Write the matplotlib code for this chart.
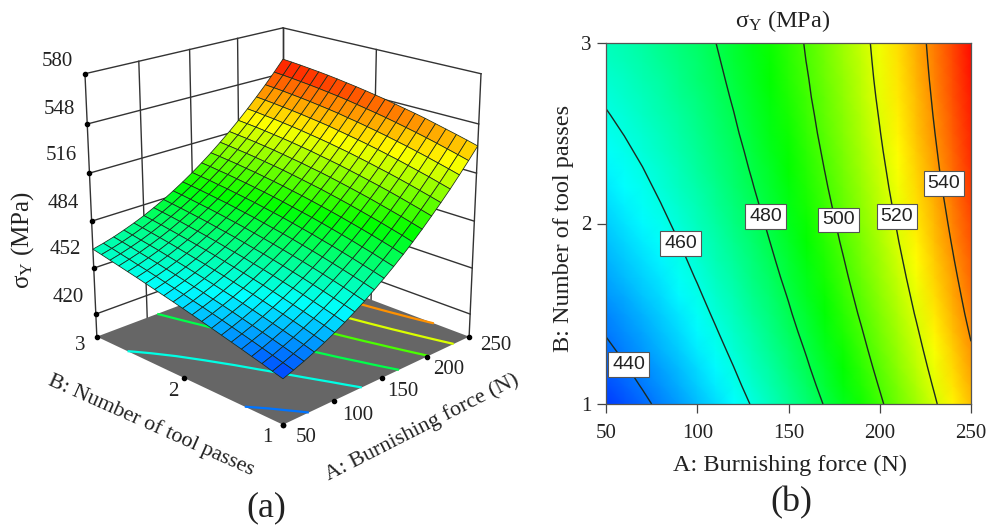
import numpy as np
import matplotlib
matplotlib.use('Agg')
import matplotlib.pyplot as plt
from matplotlib.colors import LinearSegmentedColormap, Normalize

plt.rcParams['font.family'] = ['Liberation Serif', 'DejaVu Serif']
plt.rcParams['mathtext.fontset'] = 'custom'
plt.rcParams['mathtext.rm'] = 'Liberation Serif'
plt.rcParams['mathtext.it'] = 'Liberation Serif'

force = [50, 60, 70, 80, 90, 100, 110, 120, 130, 140, 150, 160, 170, 180, 190, 200, 210, 220, 230, 240, 250]
passes = [1.0, 1.1, 1.2, 1.3, 1.4, 1.5, 1.6, 1.7, 1.8, 1.9, 2.0, 2.1, 2.2, 2.3, 2.4, 2.5, 2.6, 2.7, 2.8, 2.9, 3.0]

# yield strength, one row per number of passes
sigma_y = [
    [433.3, 435.8, 438.5, 441.5, 444.8, 448.3, 452.1, 456.2, 460.5, 465.2, 470.1, 475.2, 480.6, 486.3, 492.3, 498.6, 505.1, 511.8, 518.9, 526.2, 533.8],
    [435.1, 437.6, 440.4, 443.4, 446.6, 450.2, 454.0, 458.1, 462.4, 467.1, 472.0, 477.1, 482.6, 488.3, 494.2, 500.5, 507.0, 513.7, 520.8, 528.1, 535.7],
    [437.0, 439.4, 442.2, 445.2, 448.5, 452.0, 455.8, 459.9, 464.3, 468.9, 473.8, 479.0, 484.4, 490.1, 496.1, 502.3, 508.8, 515.6, 522.6, 529.9, 537.5],
    [438.7, 441.2, 444.0, 447.0, 450.3, 453.8, 457.6, 461.7, 466.1, 470.7, 475.6, 480.7, 486.2, 491.9, 497.8, 504.1, 510.6, 517.3, 524.4, 531.7, 539.2],
    [440.5, 443.0, 445.7, 448.7, 452.0, 455.5, 459.4, 463.4, 467.8, 472.4, 477.3, 482.5, 487.9, 493.6, 499.5, 505.8, 512.3, 519.0, 526.1, 533.4, 540.9],
    [442.2, 444.7, 447.4, 450.4, 453.7, 457.2, 461.1, 465.1, 469.5, 474.1, 479.0, 484.1, 489.5, 495.2, 501.2, 507.4, 513.9, 520.7, 527.7, 535.0, 542.6],
    [443.9, 446.4, 449.1, 452.1, 455.4, 458.9, 462.7, 466.7, 471.1, 475.7, 480.5, 485.7, 491.1, 496.8, 502.7, 508.9, 515.4, 522.2, 529.2, 536.5, 544.1],
    [445.6, 448.1, 450.8, 453.7, 457.0, 460.5, 464.3, 468.3, 472.6, 477.2, 482.1, 487.2, 492.6, 498.3, 504.2, 510.4, 516.9, 523.7, 530.7, 538.0, 545.5],
    [447.3, 449.7, 452.4, 455.3, 458.5, 462.0, 465.8, 469.8, 474.1, 478.7, 483.5, 488.7, 494.0, 499.7, 505.6, 511.8, 518.3, 525.1, 532.1, 539.4, 546.9],
    [448.9, 451.3, 453.9, 456.8, 460.0, 463.5, 467.2, 471.3, 475.5, 480.1, 484.9, 490.0, 495.4, 501.1, 507.0, 513.2, 519.7, 526.4, 533.4, 540.7, 548.3],
    [450.5, 452.8, 455.5, 458.3, 461.5, 464.9, 468.7, 472.6, 476.9, 481.4, 486.3, 491.3, 496.7, 502.3, 508.3, 514.4, 520.9, 527.6, 534.7, 541.9, 549.5],
    [452.1, 454.4, 456.9, 459.8, 462.9, 466.3, 470.0, 474.0, 478.2, 482.7, 487.5, 492.6, 497.9, 503.5, 509.4, 515.6, 522.1, 528.8, 535.8, 543.1, 550.7],
    [453.6, 455.9, 458.4, 461.2, 464.3, 467.7, 471.3, 475.3, 479.5, 484.0, 488.7, 493.8, 499.1, 504.7, 510.6, 516.8, 523.2, 530.0, 537.0, 544.3, 551.8],
    [455.1, 457.3, 459.8, 462.6, 465.6, 469.0, 472.6, 476.5, 480.7, 485.1, 489.9, 494.9, 500.2, 505.8, 511.6, 517.8, 524.2, 531.0, 538.0, 545.3, 552.8],
    [456.6, 458.8, 461.2, 463.9, 466.9, 470.2, 473.8, 477.6, 481.8, 486.2, 490.9, 495.9, 501.2, 506.8, 512.6, 518.8, 525.2, 531.9, 538.9, 546.2, 553.8],
    [458.1, 460.2, 462.6, 465.2, 468.2, 471.4, 474.9, 478.8, 482.9, 487.3, 491.9, 496.9, 502.2, 507.7, 513.6, 519.7, 526.1, 532.8, 539.8, 547.1, 554.7],
    [459.5, 461.5, 463.9, 466.5, 469.4, 472.5, 476.0, 479.8, 483.9, 488.2, 492.9, 497.8, 503.0, 508.6, 514.4, 520.5, 526.9, 533.6, 540.6, 547.9, 555.5],
    [460.9, 462.9, 465.1, 467.7, 470.5, 473.6, 477.1, 480.8, 484.8, 489.1, 493.7, 498.7, 503.9, 509.4, 515.2, 521.3, 527.7, 534.3, 541.3, 548.6, 556.2],
    [462.3, 464.2, 466.4, 468.8, 471.6, 474.7, 478.1, 481.7, 485.7, 490.0, 494.6, 499.4, 504.6, 510.1, 515.9, 522.0, 528.3, 535.0, 542.0, 549.3, 556.9],
    [463.7, 465.5, 467.6, 470.0, 472.7, 475.7, 479.0, 482.6, 486.6, 490.8, 495.3, 500.2, 505.3, 510.8, 516.5, 522.6, 529.0, 535.6, 542.6, 549.9, 557.5],
    [465.0, 466.7, 468.7, 471.1, 473.7, 476.6, 479.9, 483.4, 487.3, 491.5, 496.0, 500.8, 505.9, 511.4, 517.1, 523.1, 529.5, 536.2, 543.1, 550.4, 558.0],
]

levels = [440, 460, 480, 500, 520, 540]
label_force = [62.4, 90.8, 137.4, 177.4, 209.4, 235.2]
label_passes = [1.22, 1.89, 2.04, 2.02, 2.04, 2.22]
force_ticks = [50, 100, 150, 200, 250]
passes_ticks = [1, 2, 3]
sigma_ticks = [420, 452, 484, 516, 548, 580]
sigma_floor = 404

A, B = np.meshgrid(force, passes)
Z = np.array(sigma_y)

v0, v1 = 426, 560
stops = [(426, '#0000ff'), (456, '#00ffff'), (490, '#00ff00'), (525, '#ffff00'), (560, '#ff0000')]
cmap = LinearSegmentedColormap.from_list('rsm', [((v - v0) / (v1 - v0), c) for v, c in stops])
norm = Normalize(v0, v1)

W, H = 1002, 527
fig = plt.figure(figsize=(W / 100, H / 100), dpi=100)

def put(x, y, s, **kw):
    kw.setdefault('fontsize', 17.5)
    kw.setdefault('ha', 'center')
    kw.setdefault('va', 'center')
    fig.text(x / W, 1 - y / H, s, color='#222222', **kw)

# (a) response surface
ax = fig.add_axes([0.0462, 0.1537, 0.460, 0.8748], projection='3d', computed_zorder=False)
ax.set_proj_type('persp', focal_length=0.62)
ax.view_init(elev=20, azim=-135)
ax.set_box_aspect((1, 1, 1.03))
ax.set_xlim(50, 250)
ax.set_ylim(1, 3)
ax.set_zlim(sigma_floor, 580)
ax.set_axis_off()

line = dict(color='#333333', lw=1.0, zorder=1)
for v in sigma_ticks:
    ax.plot([50, 250], [3, 3], [v, v], **line)
    ax.plot([250, 250], [1, 3], [v, v], **line)
for v in force_ticks:
    ax.plot([v, v], [3, 3], [sigma_floor, 580], **line)
for v in passes_ticks:
    ax.plot([250, 250], [v, v], [sigma_floor, 580], **line)

fx, fy = np.meshgrid([50, 250], [1, 3])
ax.plot_surface(fx, fy, np.full(fx.shape, sigma_floor), color='#666666', shade=False, zorder=2)
ax.contour(A, B, Z, levels=levels, cmap=cmap, norm=norm, zdir='z', offset=sigma_floor,
           linewidths=1.6, zorder=3)
ax.plot_surface(A, B, Z, rstride=1, cstride=1, cmap=cmap, norm=norm, shade=False,
                edgecolor='#1a2a1a', linewidth=0.55, antialiased=True, zorder=5)

dots = dict(color='black', s=9, depthshade=False, zorder=6)
ax.scatter(force_ticks, [1] * 5, [sigma_floor] * 5, **dots)
ax.scatter([50] * 3, passes_ticks, [sigma_floor] * 3, **dots)
ax.scatter([50] * 6, [3] * 6, sigma_ticks, **dots)

zpos = [(68, 297), (65, 250), (63, 203), (61, 156), (59, 109), (57, 62)]
for v, (x, y) in zip(sigma_ticks, zpos):
    put(x, y, str(v), fontsize=15)
for v, (x, y) in zip(force_ticks, [(306, 437), (358, 415), (403, 392), (449, 370), (496, 345)]):
    put(x, y, str(v), fontsize=15)
for v, (x, y) in zip(passes_ticks, [(267, 437), (173, 392), (80, 345)]):
    put(x, y, str(v), fontsize=15)
put(23, 240, 'σ$_{\\mathrm{Y}}$ (MPa)', rotation=90, fontsize=18)
put(422, 427, 'A: Burnishing force (N)', rotation=27, fontsize=16)
put(151, 425, 'B: Number of tool passes', rotation=-24, fontsize=15.8)
put(266, 508, '(a)', fontsize=26)

# (b) contour plot
ax2 = fig.add_axes([606 / W, 1 - 404 / H, 365 / W, 361 / H])
ax2.pcolormesh(A, B, Z, cmap=cmap, norm=norm, shading='gouraud')
ax2.contour(A, B, Z, levels=levels, colors='#1c2a22', linewidths=1.0)
for v, x, y in zip(levels, label_force, label_passes):
    ax2.text(x, y, str(v), ha='center', va='center', fontsize=14, family='Liberation Sans', color='#222222',
             bbox=dict(boxstyle='square,pad=0.2', fc='white', ec='#555555', lw=0.8))
ax2.set_xlim(50, 250)
ax2.set_ylim(1, 3)
ax2.set_xticks(force_ticks)
ax2.set_yticks(passes_ticks)
ax2.tick_params(labelsize=15, length=6.5, width=0.9, color='#444444', labelcolor='#222222')
ax2.tick_params(axis='x', pad=8)
ax2.tick_params(axis='y', pad=4)
for s in ax2.spines.values():
    s.set_color('#555555')
    s.set_linewidth(0.9)
put(783, 21, 'σ$_{\\mathrm{Y}}$ (MPa)')
put(790, 465, 'A: Burnishing force (N)')
put(563, 228, 'B: Number of tool passes', rotation=90)
put(791, 503, '(b)', fontsize=26)

fig.savefig('out.png', dpi=100)
